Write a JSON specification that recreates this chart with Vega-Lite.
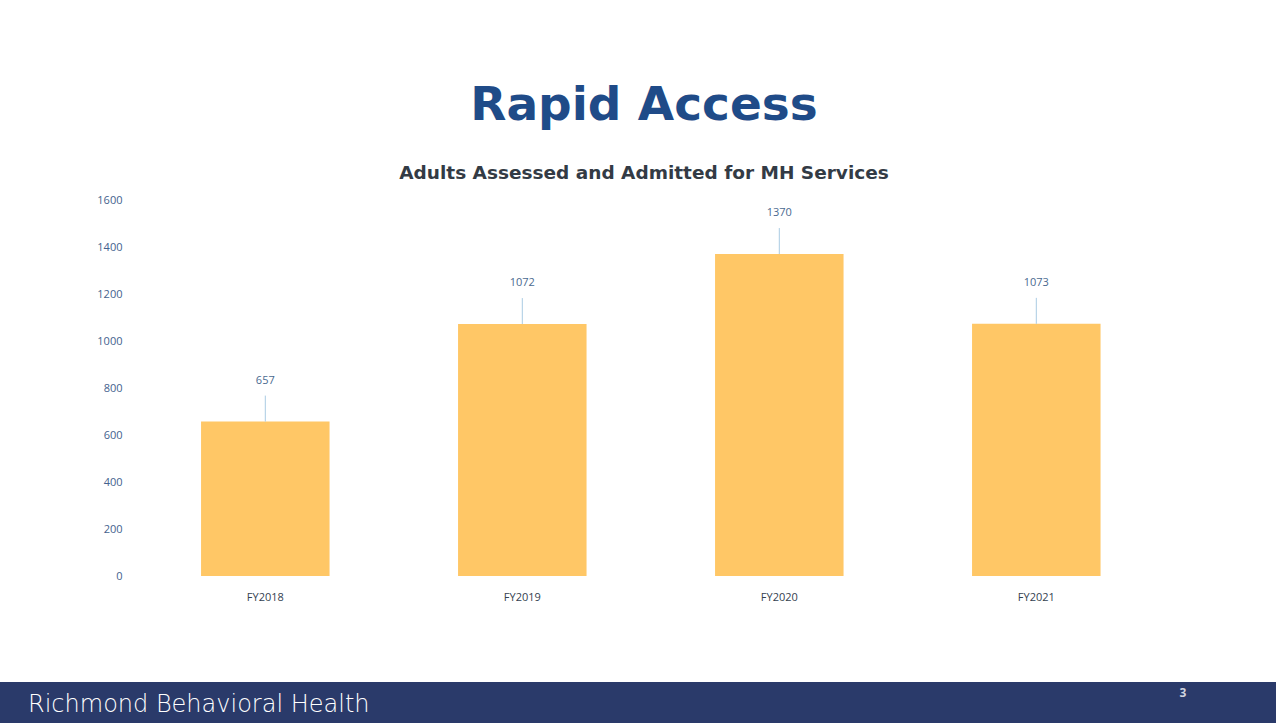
{
  "$schema": "https://vega.github.io/schema/vega-lite/v6.json",
  "background": "white",
  "padding": {"top": 82, "left": 0, "right": 0, "bottom": 0},
  "columns": 1,
  "align": "none",
  "spacing": 79,
  "config": {"view": {"stroke": null}},
  "concat": [
    {
      "width": 1276,
      "height": 376,
      "title": {
        "text": "Rapid Access",
        "subtitle": "Adults Assessed and Admitted for MH Services",
        "anchor": "middle",
        "frame": "group",
        "dx": 6,
        "font": "DejaVu Sans",
        "fontSize": 47,
        "fontWeight": "bold",
        "color": "#1f4b88",
        "subtitleFont": "DejaVu Sans",
        "subtitleFontSize": 18.5,
        "subtitleFontWeight": "bold",
        "subtitleColor": "#333b45",
        "subtitlePadding": 34,
        "offset": 10.5
      },
      "data": {
        "values": [
          {"year": "FY2018", "value": 657},
          {"year": "FY2019", "value": 1072},
          {"year": "FY2020", "value": 1370},
          {"year": "FY2021", "value": 1073}
        ]
      },
      "encoding": {
        "x": {
          "field": "year",
          "type": "nominal",
          "sort": null,
          "scale": {"paddingInner": 0.5, "paddingOuter": 0.7325, "align": 0.534},
          "axis": {
            "title": null,
            "domain": false,
            "ticks": false,
            "labelAngle": 0,
            "labelPadding": 15.5,
            "labelFont": "Open Sans",
            "labelFontSize": 11,
            "labelColor": "#34414f"
          }
        },
        "y": {
          "field": "value",
          "type": "quantitative",
          "scale": {"domain": [0, 1600]},
          "axis": {
            "title": null,
            "format": "d",
            "values": [0, 200, 400, 600, 800, 1000, 1200, 1400, 1600],
            "grid": false,
            "domain": false,
            "ticks": false,
            "offset": -137,
            "labelPadding": 15,
            "labelFont": "Open Sans",
            "labelFontSize": 11,
            "labelColor": "#44628e"
          }
        }
      },
      "layer": [
        {"mark": {"type": "bar", "color": "#ffc766"}},
        {
          "mark": {"type": "rule", "color": "#a9cbe3", "strokeWidth": 1, "y2Offset": -26},
          "encoding": {"y2": {"field": "value"}}
        },
        {
          "mark": {"type": "text", "dy": -41, "font": "Open Sans", "fontSize": 11, "color": "#4a6a90"},
          "encoding": {"text": {"field": "value", "type": "quantitative", "format": "d"}}
        }
      ]
    },
    {
      "width": 1276,
      "height": 41,
      "view": {"fill": "#2a3a6a", "stroke": null},
      "title": {
        "text": "Richmond Behavioral Health",
        "orient": "bottom",
        "anchor": "start",
        "frame": "group",
        "offset": -30.5,
        "dx": 28,
        "baseline": "top",
        "font": "DejaVu Sans",
        "fontSize": 24,
        "fontWeight": 200,
        "color": "#ffffff"
      },
      "data": {"values": [{"page": "3"}]},
      "mark": {"type": "text", "font": "Open Sans", "fontSize": 12, "fontWeight": "bold", "color": "#cfd3df", "dy": -10},
      "encoding": {
        "x": {"field": "page", "type": "ordinal", "scale": {"type": "point", "padding": 0, "align": 0.927}, "axis": null},
        "text": {"field": "page"}
      }
    }
  ]
}
